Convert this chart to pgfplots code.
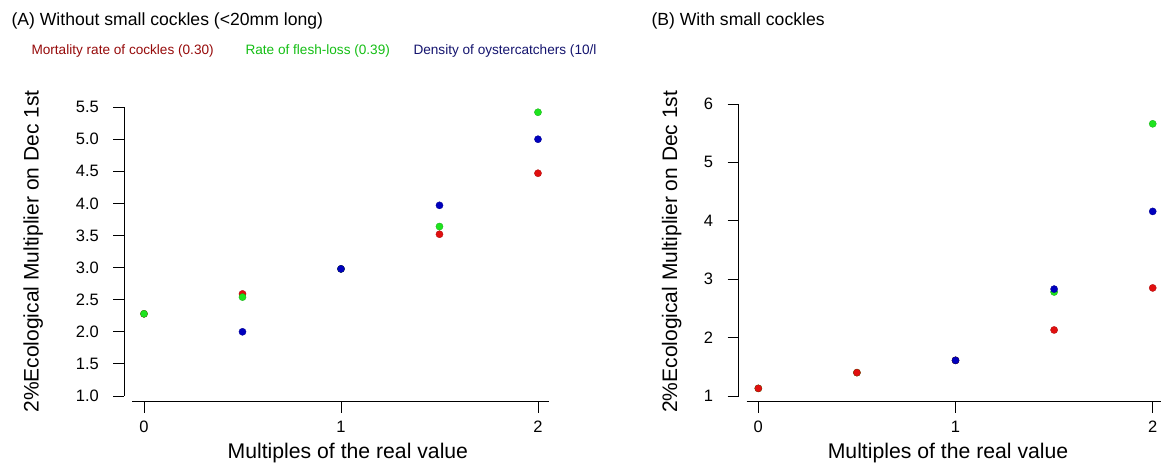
\documentclass[border=0pt]{standalone}
\usepackage{fontspec}
\setmainfont{Liberation Sans}
\usepackage{pgfplots}
\pgfplotsset{compat=1.18}
\definecolor{ptred}{RGB}{225,15,15}
\definecolor{ptgreen}{RGB}{30,228,30}
\definecolor{ptblue}{RGB}{0,0,190}
\definecolor{lgred}{RGB}{150,10,10}
\definecolor{lggreen}{RGB}{20,190,20}
\definecolor{lgblue}{RGB}{20,20,110}
\pgfplotsset{
  rstyle/.style={
    scale only axis,
    axis lines*=left,
    axis line style={draw=none},
    tick align=outside,
    major tick length=11pt,
    tick style={black, line width=0.8pt},
    clip=false,
    xtick={0,1,2},
    ticklabel style={font=\fontsize{16.5}{18}\selectfont},
    xticklabel style={yshift=-5pt},
    /pgf/number format/assume math mode=true,
  },
  pts/.style={only marks, mark=*, mark size=3.6pt, mark options={fill=#1, draw=#1!75!black, line width=0.3pt}},
}
\begin{document}
\begin{tikzpicture}
\useasboundingbox (0pt,0pt) rectangle (1161pt,-465pt);
\node[anchor=west, font=\fontsize{17.6}{19}\selectfont] at (8pt,-21pt) {(A) Without small cockles (<20mm long)};
\node[anchor=west, font=\fontsize{17.6}{19}\selectfont] at (648pt,-21pt) {(B) With small cockles};
\node[anchor=west, font=\fontsize{13.6}{15}\selectfont, text=lgred] at (28pt,-50.5pt) {Mortality rate of cockles (0.30)};
\node[anchor=west, font=\fontsize{13.6}{15}\selectfont, text=lggreen] at (242pt,-50.5pt) {Rate of flesh-loss (0.39)};
\node[anchor=west, font=\fontsize{13.6}{15}\selectfont, text=lgblue] at (410pt,-50.5pt) {Density of oystercatchers (10/l};

% Panel A
\begin{axis}[rstyle,
  at={(124.3pt,-401.7pt)}, anchor=south west,
  width=425.5pt, height=301pt,
  xmin=-0.1, xmax=2.06, ymin=0.911, ymax=5.6,
  ytick={1,1.5,2,2.5,3,3.5,4,4.5,5,5.5},
  yticklabel style={xshift=-11pt, /pgf/number format/.cd, fixed, fixed zerofill, precision=1},
  xlabel={Multiples of the real value},
  xlabel style={font=\fontsize{21.2}{23}\selectfont, at={(axis cs:1.035,0.911)}, anchor=center, yshift=-51pt},
  ylabel={2\%Ecological Multiplier on Dec 1st},
  ylabel style={font=\fontsize{21}{23}\selectfont, at={(axis cs:-0.1,3.25)}, anchor=center, yshift=91pt},
]
\draw[line width=0.8pt] (axis cs:-0.1,1) -- (axis cs:-0.1,5.5);
\draw[line width=0.8pt] (axis cs:-0.06,0.911) -- (axis cs:2.056,0.911);
\addplot[pts=ptred] coordinates {(0,2.28) (0.5,2.59) (1,2.98) (1.5,3.52) (2,4.47)};
\addplot[pts=ptgreen] coordinates {(0,2.28) (0.5,2.54) (1,2.98) (1.5,3.64) (2,5.42)};
\addplot[pts=ptblue] coordinates {(0.5,2.0) (1,2.98) (1.5,3.97) (2,5.0)};
\end{axis}

% Panel B
\begin{axis}[rstyle,
  at={(738.6pt,-401.7pt)}, anchor=south west,
  width=422pt, height=303.6pt,
  xmin=-0.1, xmax=2.04, ymin=0.902, ymax=6.1,
  ytick={1,2,3,4,5,6},
  yticklabel style={xshift=-11pt},
  xlabel={Multiples of the real value},
  xlabel style={font=\fontsize{21.2}{23}\selectfont, at={(axis cs:0.962,0.902)}, anchor=center, yshift=-51pt},
  ylabel={2\%Ecological Multiplier on Dec 1st},
  ylabel style={font=\fontsize{21}{23}\selectfont, at={(axis cs:-0.1,3.47)}, anchor=center, yshift=67pt},
]
\draw[line width=0.8pt] (axis cs:-0.1,1) -- (axis cs:-0.1,6);
\draw[line width=0.8pt] (axis cs:-0.059,0.902) -- (axis cs:2.04,0.902);
\addplot[pts=ptgreen] coordinates {(0,1.13) (0.5,1.40) (1,1.61) (1.5,2.78) (2,5.66)};
\addplot[pts=ptred] coordinates {(0,1.13) (0.5,1.40) (1,1.61) (1.5,2.13) (2,2.85)};
\addplot[pts=ptblue] coordinates {(1,1.61) (1.5,2.83) (2,4.16)};
\end{axis}
\end{tikzpicture}
\end{document}
